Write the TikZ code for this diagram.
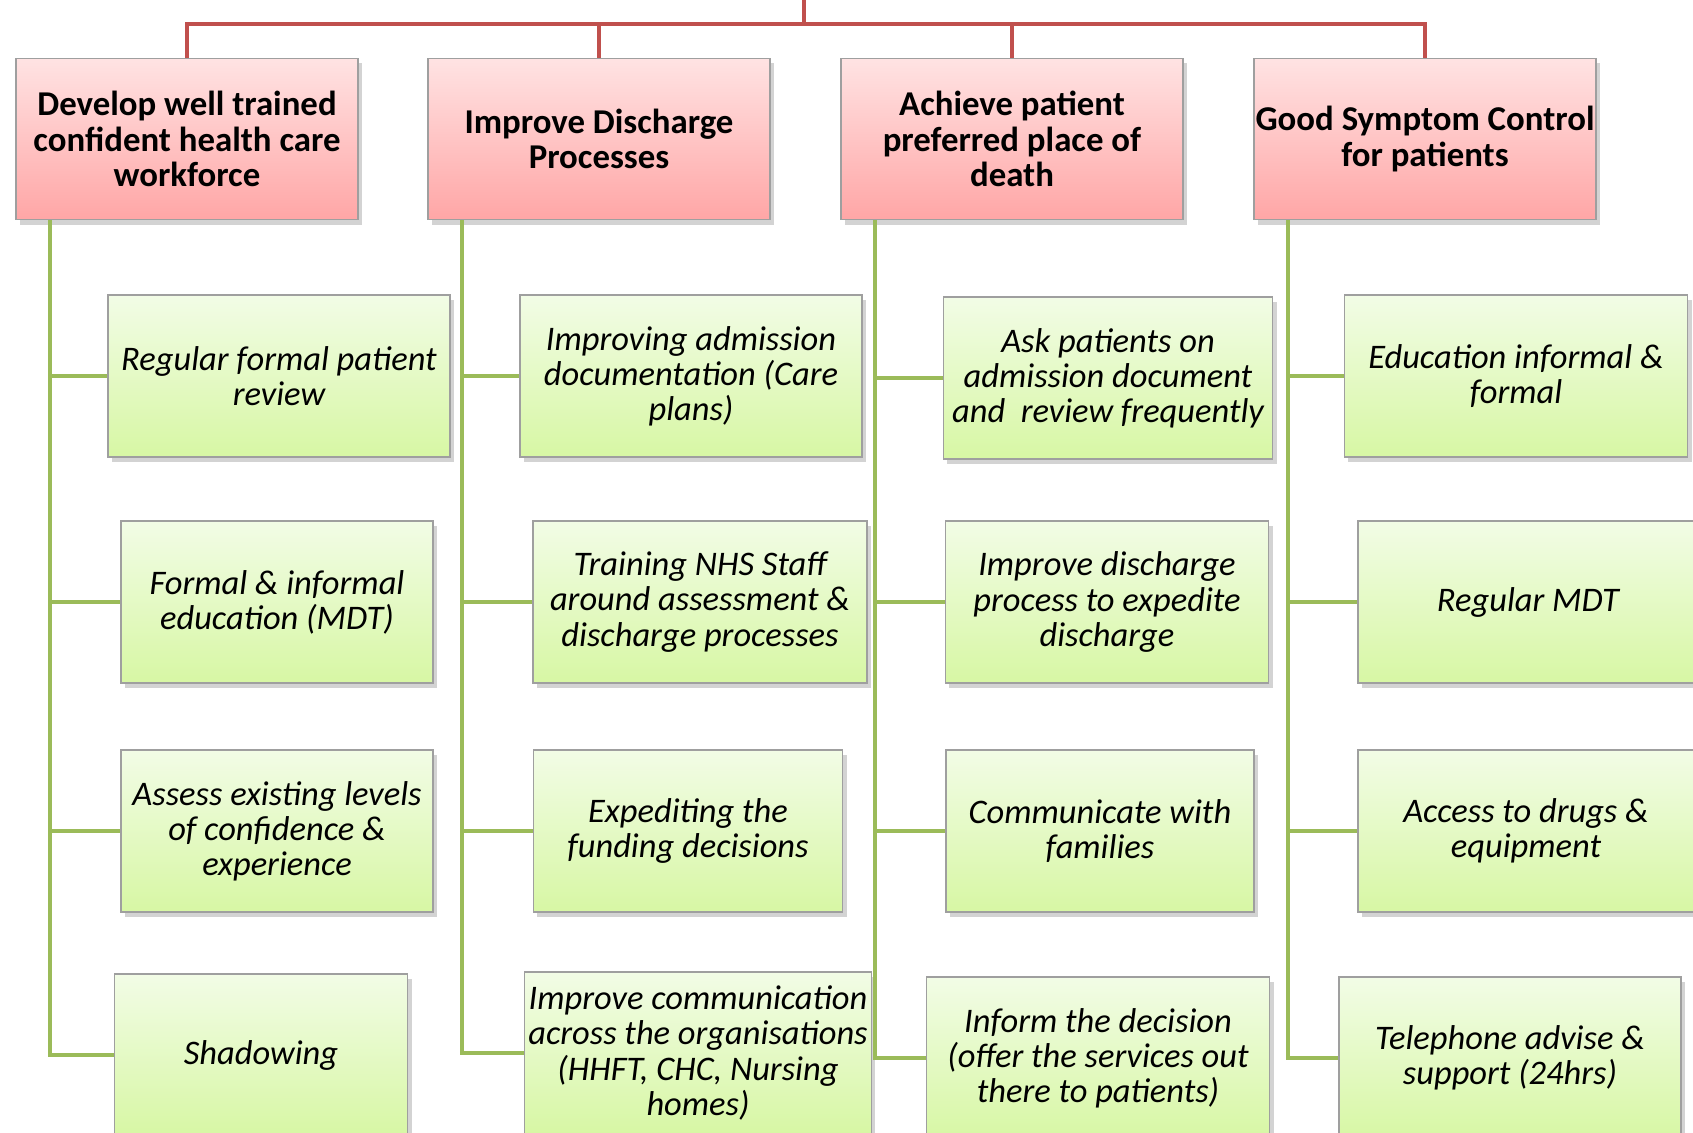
\documentclass[tikz,border=0pt]{standalone}
\usepackage{fontspec}
\setmainfont{Carlito}
\usepackage{xcolor}
\usetikzlibrary{shadows}

\definecolor{goalred}{HTML}{C0504D}
\definecolor{actiongreen}{HTML}{9BBB59}
\definecolor{goaltop}{HTML}{FFE3E3}
\definecolor{goalbottom}{HTML}{FFA6A6}
\definecolor{actiontop}{HTML}{F2FCE6}
\definecolor{actionbottom}{HTML}{D7F7A4}

\begin{document}
\begin{tikzpicture}[x=0.01cm, y=-0.01cm,
    goal/.style={draw=gray!75, top color=goaltop, bottom color=goalbottom,
        minimum width=3.42cm, minimum height=1.61cm, inner xsep=0pt, inner ysep=1pt, align=center,
        font=\fontsize{9.9}{10}\selectfont\bfseries,
        drop shadow={opacity=0.35, shadow xshift=0.04cm, shadow yshift=-0.05cm}},
    action/.style={draw=gray!75, top color=actiontop, bottom color=actionbottom,
        minimum height=1.62cm, inner sep=1pt, align=center,
        font=\fontsize{9.8}{10}\selectfont\itshape,
        drop shadow={opacity=0.35, shadow xshift=0.04cm, shadow yshift=-0.05cm}},
    redline/.style={goalred, line width=1.2pt},
    greenline/.style={actiongreen, line width=1.2pt}]

\clip (0,0) rectangle (1693,1132);

% goals
\node[goal] (h1) at (187,139) {Develop well trained\\confident health care\\workforce};
\node[goal] (h2) at (599,139) {Improve Discharge\\Processes};
\node[goal] (h3) at (1012,139) {Achieve patient\\preferred place of\\death};
\node[goal] (h4) at (1425,139) {Good Symptom Control\\for patients};

% actions
\node[action, minimum width=3.42cm] (c11) at (279,376) {Regular formal patient\\review};
\node[action, minimum width=3.12cm] (c12) at (277,602) {Formal \& informal\\education (MDT)};
\node[action, minimum width=3.12cm] (c13) at (277,831) {Assess existing levels\\of confidence \&\\experience};
\node[action, minimum width=2.93cm] (c14) at (261,1055) {Shadowing};

\node[action, minimum width=3.42cm] (c21) at (691,376) {Improving admission\\documentation (Care\\plans)};
\node[action, minimum width=3.34cm] (c22) at (700,602) {Training NHS Staff\\around assessment \&\\discharge processes};
\node[action, minimum width=3.09cm] (c23) at (688,831) {Expediting the\\funding decisions};
\node[action, minimum width=3.42cm] (c24) at (698,1053) {Improve communication\\across the organisations\\(HHFT, CHC, Nursing\\homes)};

\node[action, minimum width=3.29cm] (c31) at (1108,378) {Ask patients on\\admission document\\and~ review frequently};
\node[action, minimum width=3.23cm] (c32) at (1107,602) {Improve discharge\\process to expedite\\discharge};
\node[action, minimum width=3.08cm] (c33) at (1100,831) {Communicate with\\families};
\node[action, minimum width=3.43cm] (c34) at (1098,1058) {Inform the decision\\(offer the services out\\there to patients)};

\node[action, minimum width=3.43cm] (c41) at (1516,376) {Education informal \&\\formal};
\node[action, minimum width=3.40cm] (c42) at (1528,602) {Regular MDT};
\node[action, minimum width=3.36cm] (c43) at (1526,831) {Access to drugs \&\\equipment};
\node[action, minimum width=3.42cm] (c44) at (1510,1058) {Telephone advise \&\\support (24hrs)};

% red tree on top
\coordinate (root) at (804,-10);
\coordinate (bus) at (804,24);
\draw[redline] (root) -- (bus);
\foreach \i in {1,...,4}
    \draw[redline] (h\i.north) |- (bus);

% green trunks
\foreach \i in {1,...,4} {
    \coordinate (t\i) at ([xshift=0.35cm]h\i.south west);
    \foreach \j in {1,...,4}
        \draw[greenline] (t\i) |- (c\i\j.west);
}
\end{tikzpicture}
\end{document}
